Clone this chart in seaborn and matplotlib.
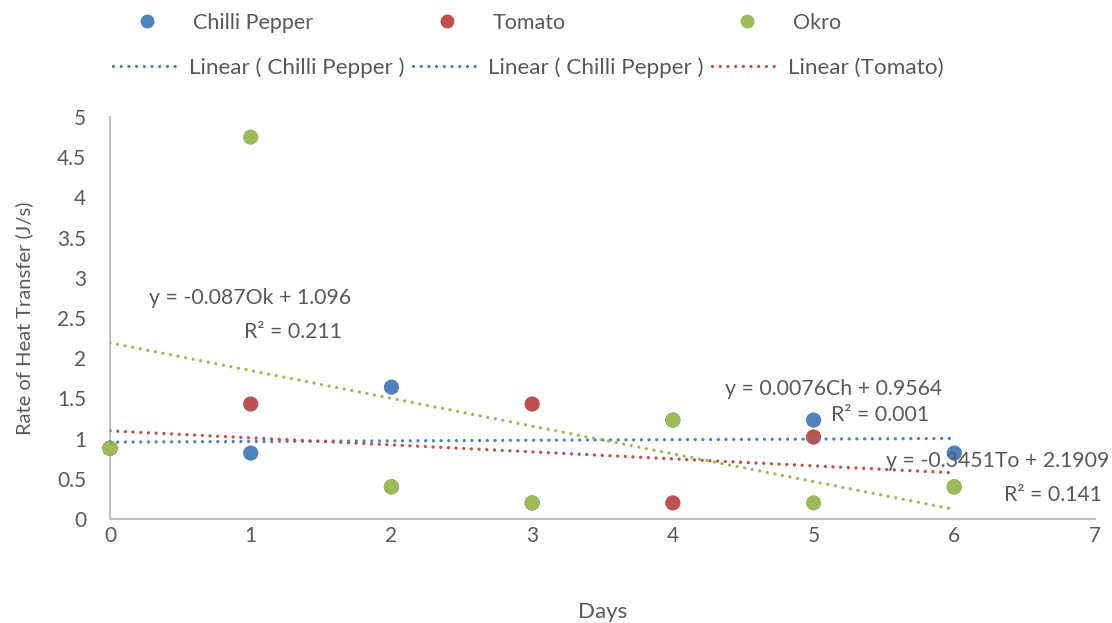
import numpy as np
import pandas as pd
import matplotlib
matplotlib.use("Agg")
import matplotlib.pyplot as plt
from matplotlib.lines import Line2D
import seaborn as sns

# ---- data ----
days = [0, 1, 2, 3, 4, 5, 6]
chilli = [0.88, 0.82, 1.64, 0.20, 1.23, 1.23, 0.82]
tomato = [0.88, 1.43, 0.40, 1.43, 0.20, 1.02, 0.40]
okro = [0.88, 4.75, 0.40, 0.20, 1.23, 0.20, 0.40]
series_names = ["Chilli Pepper", "Tomato", "Okro"]
colors = ["#4F81BD", "#C0504D", "#9BBB59"]

# trend lines as drawn (slope, intercept) and their colours
trend_slopes = [0.0076, -0.087, -0.3451]
trend_intercepts = [0.9564, 1.096, 2.1909]
trend_colors = ["#4F81BD", "#C0504D", "#9BBB59"]
trend_x = [0, 6]
legend_line_names = ["Linear ( Chilli Pepper )", "Linear ( Chilli Pepper )", "Linear (Tomato)"]
legend_line_colors = ["#4F81BD", "#4F81BD", "#C0504D"]

eq_texts = ["y = -0.087Ok + 1.096", "R\u00b2 = 0.211",
            "y = 0.0076Ch + 0.9564", "R\u00b2 = 0.001",
            "y = -0.3451To + 2.1909", "R\u00b2 = 0.141"]
eq_pos = [(0.995, 2.75), (1.30, 2.33), (5.14, 1.62), (5.47, 1.29), (6.31, 0.72), (6.70, 0.30)]

xticks = [0, 1, 2, 3, 4, 5, 6, 7]
yticks = [0, 0.5, 1, 1.5, 2, 2.5, 3, 3.5, 4, 4.5, 5]
ytick_labels = ["0", "0.5", "1", "1.5", "2", "2.5", "3", "3.5", "4", "4.5", "5"]

# ---- style ----
sns.set_theme(style="white")
plt.rcParams["font.family"] = ["Lato", "DejaVu Sans"]
txt = "#595959"
dot = (0, (0.01, 2.3))
FS = 15.5
FS2 = 16.2

fig = plt.figure(figsize=(11.12, 6.23), dpi=100)
W, H = 1112, 623
ax = fig.add_axes([110 / W, 1 - 519 / H, (1095 - 110) / W, (519 - 117) / H])

df = pd.DataFrame({
    "Days": days * 3,
    "Rate": chilli + tomato + okro,
    "Series": sum([[n] * len(days) for n in series_names], []),
})
sns.scatterplot(data=df, x="Days", y="Rate", hue="Series", palette=colors,
                hue_order=series_names, s=120, edgecolor="none", legend=False,
                ax=ax, clip_on=False, zorder=3)

for m, b, c in zip(trend_slopes, trend_intercepts, trend_colors):
    xs = np.array(trend_x, dtype=float)
    sns.lineplot(x=xs, y=b + m * xs, color=c, lw=2.4, ax=ax,
                 linestyle=dot, dash_capstyle="round", zorder=4)

for t, (x, y) in zip(eq_texts, eq_pos):
    ax.text(x, y, t, ha="center", va="center", fontsize=15.3, color=txt, zorder=5)

ax.set_xlim(0, 7)
ax.set_ylim(0, 5)
ax.set_xticks(xticks)
ax.set_yticks(yticks)
ax.set_yticklabels(ytick_labels)
ax.tick_params(axis="both", length=0, labelsize=15, labelcolor=txt)
ax.tick_params(axis="y", pad=17)
ax.tick_params(axis="x", pad=5)
for s in ["top", "right"]:
    ax.spines[s].set_visible(False)
for s in ["left", "bottom"]:
    ax.spines[s].set_color("#BFBFBF")
    ax.spines[s].set_linewidth(1.5)
ax.set_xlabel("Days", fontsize=16, color=txt, labelpad=40)
ax.set_ylabel("Rate of Heat Transfer (J/s)", fontsize=14.5, color=txt, labelpad=17)

# legend row 1: three equally spaced entries
em = FS * 100 / 72
marker_x = [147, 447, 747]
for name, c, mx in zip(series_names, colors, marker_x):
    h = Line2D([], [], marker="o", linestyle="none", markersize=10, color=c, markeredgewidth=0)
    fig.legend([h], [name], loc="center left",
               bbox_to_anchor=((mx - em / 2) / W, 1 - 23 / H),
               frameon=False, fontsize=FS, labelcolor=txt, borderpad=0,
               borderaxespad=0, handlelength=1.0, handletextpad=(193 - 147 - em / 2) / em)

# legend row 2: trend lines
em2 = FS2 * 100 / 72
h2 = [Line2D([], [], color=c, lw=2.4, linestyle=dot, dash_capstyle="round")
      for c in legend_line_colors]
fig.legend(h2, legend_line_names, loc="center left", bbox_to_anchor=(113 / W, 1 - 68 / H),
           ncol=3, frameon=False, fontsize=FS2, labelcolor=txt, borderpad=0, borderaxespad=0,
           columnspacing=8 / em2, handletextpad=12 / em2, handlelength=64 / em2)

fig.savefig("out.png", dpi=100)
